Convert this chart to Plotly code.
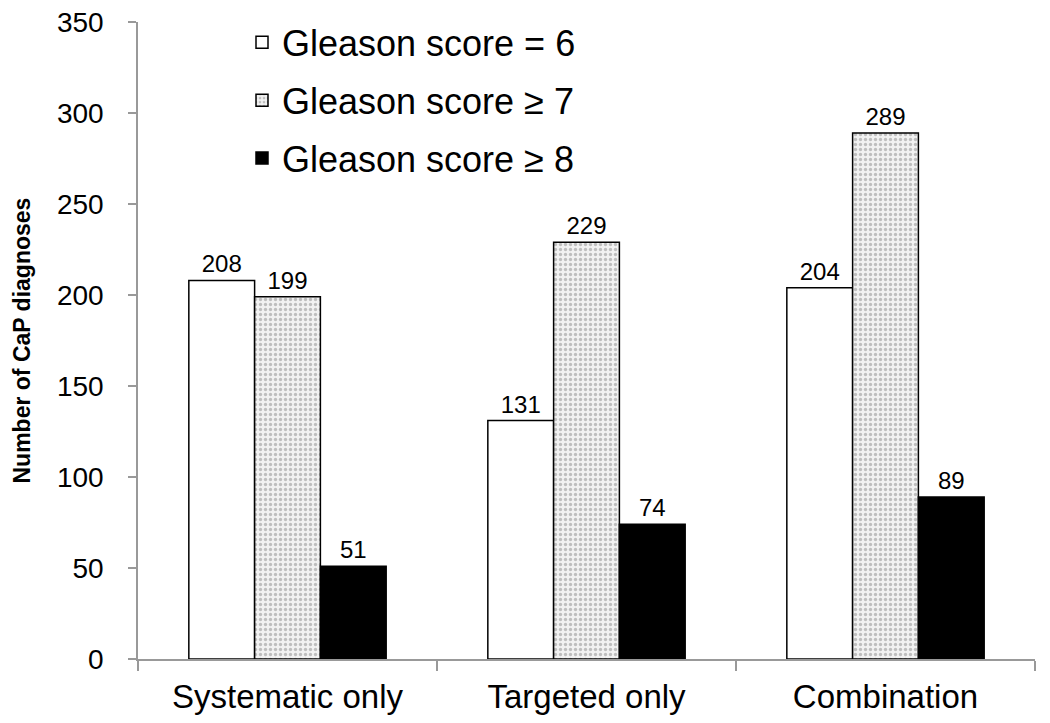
import plotly.graph_objects as go

categories = ["Systematic only", "Targeted only", "Combination"]
series_names = ["Gleason score = 6", "Gleason score \u2265 7", "Gleason score \u2265 8"]
gs6 = [208, 131, 204]
gs7 = [199, 229, 289]
gs8 = [51, 74, 89]
y_ticks = [0, 50, 100, 150, 200, 250, 300, 350]

fig = go.Figure()
common = dict(textposition="outside", cliponaxis=False,
              textfont=dict(size=24, color="black", family="Liberation Sans"))
fig.add_trace(go.Bar(x=categories, y=gs6, name=series_names[0], text=gs6,
                     marker=dict(color="white", line=dict(color="black", width=1.5)),
                     legendgroup="a", **common))
fig.add_trace(go.Bar(x=categories, y=gs7, name=series_names[1], text=gs7,
                     marker=dict(color="white", line=dict(color="black", width=1.5),
                                 pattern=dict(shape=".", fgcolor="#8a8a8a", bgcolor="#f2f2f2",
                                              size=5, solidity=0.35)),
                     legendgroup="b", **common))
fig.add_trace(go.Bar(x=categories, y=gs8, name=series_names[2], text=gs8,
                     marker=dict(color="black", line=dict(color="black", width=1.5)),
                     legendgroup="c", **common))

OFF = 8  # page body margin
L, R, T, B = 138 - OFF, 15 + OFF, 22 - OFF, 64 + OFF
PW = 1050 - L - R
fig.update_layout(
    width=1050, height=723,
    margin=dict(l=L, r=R, t=T, b=B, autoexpand=False),
    paper_bgcolor="white", plot_bgcolor="white",
    barmode="group", bargap=0.34, bargroupgap=0,
    font=dict(family="Liberation Sans", color="black"),
    showlegend=True,
    legend=dict(x=(242 - OFF - L) / PW, y=1.015, xanchor="left", yanchor="top",
                font=dict(size=36), tracegroupgap=8,
                bgcolor="rgba(0,0,0,0)"),
    xaxis=dict(showline=True, linecolor="#999999", linewidth=1.5,
               ticks="outside", tickson="boundaries", ticklen=10,
               tickcolor="#999999", tickwidth=1.5, automargin=False,
               ticklabelstandoff=8, ticklabeloverflow="allow",
               tickfont=dict(size=33), showgrid=False),
    yaxis=dict(range=[0, 350], tickvals=y_ticks, showline=True,
               linecolor="#999999", linewidth=1.5, ticks="outside",
               ticklen=8, tickcolor="#999999", tickwidth=1.5, automargin=False,
               ticklabelstandoff=19, ticklabeloverflow="allow",
               tickfont=dict(size=28), showgrid=False, zeroline=False),
    annotations=[dict(text="<b>Number of CaP diagnoses</b>", textangle=-90,
                      xref="paper", yref="paper", x=-(L + OFF - 21) / PW, y=0.5,
                      xanchor="center", yanchor="middle", showarrow=False,
                      font=dict(size=23))],
)

fig.write_html("out.html")
